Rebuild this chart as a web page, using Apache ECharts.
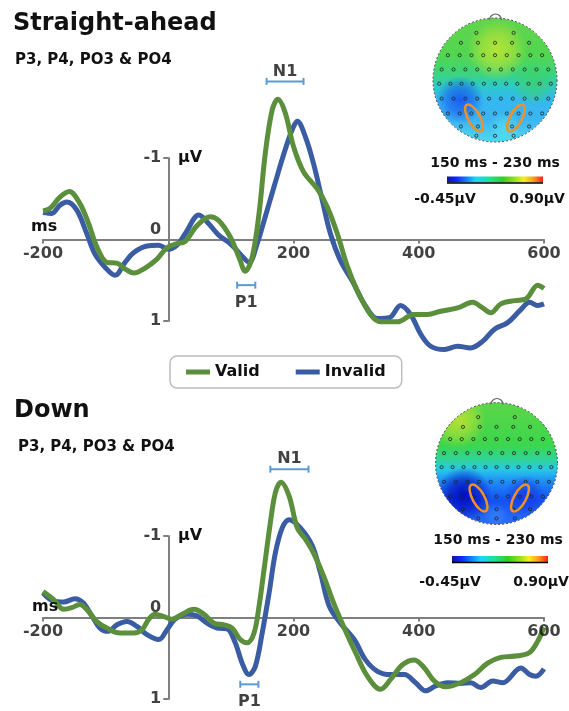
<!DOCTYPE html>
<html>
<head>
<meta charset="utf-8">
<script src="https://cdn.jsdelivr.net/npm/echarts@6/dist/echarts.min.js"></script>
<style>
  html, body { margin: 0; padding: 0; background: #fff; }
  #chart { width: 569px; height: 711px; }
</style>
</head>
<body>
<div id="chart"></div>
<script>
const FONT = 'DejaVu Sans'
const GREEN = '#5b8f3b'
const BLUE = '#3a5ca3'
const WIN = '#5b9bd5'
const AXIS = '#7f7f7f'
const INK = '#111'

// ERP waveforms, [ms, µV] (negative up)
const straightValid = [
  [-200, -0.35], [-189, -0.38], [-173, -0.52], [-158, -0.59], [-141, -0.44], [-127, -0.19],
  [-114, 0.09], [-98, 0.28], [-82, 0.29], [-69, 0.36], [-55, 0.41], [-37, 0.35], [-18, 0.24],
  [-2, 0.1], [14, 0.05], [26, 0.03], [46, -0.17], [67, -0.28], [81, -0.23], [99, -0.03],
  [113, 0.22], [123, 0.39], [134, 0.22], [145, -0.32], [155, -1.06], [166, -1.59], [175, -1.72],
  [187, -1.55], [200, -1.14], [216, -0.83], [238, -0.62], [254, -0.4], [270, -0.07], [286, 0.33],
  [302, 0.63], [323, 0.92], [339, 1.01], [366, 1.01], [392, 0.92], [414, 0.92], [435, 0.88],
  [462, 0.84], [486, 0.77], [502, 0.84], [515, 0.9], [531, 0.79], [553, 0.75], [571, 0.73],
  [590, 0.56], [600, 0.6]
]
const straightInvalid = [
  [-200, -0.33], [-186, -0.32], [-173, -0.42], [-162, -0.46], [-146, -0.36], [-130, -0.07],
  [-117, 0.18], [-101, 0.34], [-85, 0.44], [-69, 0.28], [-55, 0.16], [-34, 0.08], [-15, 0.07],
  [0, 0.12], [14, 0.07], [27, -0.07], [49, -0.3], [65, -0.19], [81, -0.05], [99, 0.05],
  [115, 0.18], [129, 0.28], [142, 0.05], [153, -0.23], [169, -0.65], [185, -1.06], [198, -1.35],
  [206, -1.45], [219, -1.26], [232, -0.93], [246, -0.48], [259, -0.07], [275, 0.26], [294, 0.51],
  [313, 0.79], [334, 0.97], [353, 0.96], [371, 0.81], [387, 0.92], [403, 1.16], [419, 1.31],
  [441, 1.35], [462, 1.31], [483, 1.33], [502, 1.25], [521, 1.1], [542, 1.02], [563, 0.86],
  [577, 0.77], [590, 0.81], [600, 0.79]
]
const downValid = [
  [-200, -0.32], [-183, -0.22], [-167, -0.1], [-154, -0.12], [-141, -0.16], [-128, -0.08],
  [-114, 0.05], [-98, 0.13], [-77, 0.19], [-55, 0.19], [-42, 0.15], [-31, 0.02], [-21, -0.04],
  [-7, -0.01], [6, 0.02], [22, -0.04], [41, -0.1], [57, -0.04], [73, 0.07], [89, 0.09],
  [102, 0.13], [115, 0.27], [126, 0.31], [137, 0.19], [145, -0.14], [153, -0.59], [163, -1.16],
  [171, -1.53], [180, -1.66], [193, -1.49], [206, -1.1], [219, -0.96], [232, -0.79], [248, -0.51],
  [264, -0.18], [280, 0.11], [299, 0.43], [318, 0.72], [339, 0.88], [355, 0.76], [374, 0.58],
  [393, 0.52], [409, 0.62], [425, 0.78], [443, 0.85], [467, 0.8], [489, 0.7], [510, 0.56],
  [531, 0.49], [558, 0.47], [577, 0.43], [590, 0.29], [600, 0.12]
]
const downInvalid = [
  [-200, -0.3], [-183, -0.2], [-167, -0.19], [-149, -0.23], [-136, -0.18], [-122, -0.02],
  [-109, 0.13], [-96, 0.17], [-82, 0.09], [-66, 0.05], [-50, 0.11], [-34, 0.21], [-15, 0.27],
  [-2, 0.15], [11, 0.02], [30, -0.04], [46, -0.02], [62, 0.07], [78, 0.13], [94, 0.14],
  [107, 0.31], [118, 0.56], [129, 0.7], [139, 0.6], [150, 0.19], [161, -0.3], [171, -0.79],
  [182, -1.1], [193, -1.2], [211, -1.1], [230, -0.88], [243, -0.55], [257, -0.14], [275, 0.07],
  [297, 0.27], [315, 0.52], [334, 0.66], [355, 0.7], [377, 0.7], [395, 0.8], [411, 0.9],
  [427, 0.84], [446, 0.8], [467, 0.81], [483, 0.8], [499, 0.86], [518, 0.78], [534, 0.8],
  [563, 0.62], [577, 0.7], [587, 0.72], [600, 0.63]
]

// component windows: [start ms, end ms, level µV]
const straightN1 = [157, 216, -1.94]
const straightP1 = [110, 139, 0.56]
const downN1 = [163, 224, -1.82]
const downP1 = [115, 144, 0.82]

const xTicks = [-200, 200, 400, 600]
const yTicks = [-1, 0, 1]

const titles = ['Straight-ahead', 'Down']
const channels = 'P3, P4, PO3 & PO4'
const topoWindow = '150 ms - 230 ms'
const scaleLabels = ['-0.45µV', '0.90µV']

const panels = [
  { top: 158, valid: straightValid, invalid: straightInvalid, n1: straightN1, p1: straightP1 },
  { top: 536, valid: downValid, invalid: downInvalid, n1: downN1, p1: downP1 }
]

const labelFont = { fontFamily: FONT, fontWeight: 'bold', fontSize: 16, color: INK }

function xAxis(g) {
  return {
    type: 'value', gridIndex: g, min: -200, max: 600, interval: 200,
    axisLine: { onZero: true, lineStyle: { color: AXIS, width: 2 } },
    axisTick: { length: 4, lineStyle: { color: AXIS, width: 2 } },
    axisLabel: { show: false },
    splitLine: { show: false }
  }
}

function yAxis(g) {
  return {
    type: 'value', gridIndex: g, min: -1, max: 1, interval: 1, inverse: true,
    axisLine: { show: true, onZero: true, lineStyle: { color: AXIS, width: 2 } },
    axisTick: { show: true, length: 5, lineStyle: { color: AXIS, width: 2 } },
    axisLabel: { show: false },
    splitLine: { show: false }
  }
}

function curve(name, data, color, g) {
  return {
    type: 'line', name, data, xAxisIndex: g, yAxisIndex: g,
    smooth: 0.35, symbol: 'none', clip: false, z: 3,
    lineStyle: { color, width: 5 }, itemStyle: { color }
  }
}

function bracket(win, g) {
  return {
    type: 'line', xAxisIndex: g, yAxisIndex: g, silent: true, clip: false, z: 4,
    data: [[win[0], win[2]], [win[1], win[2]]],
    symbol: 'rect', symbolSize: [2, 7], showSymbol: true,
    lineStyle: { color: WIN, width: 2 }, itemStyle: { color: WIN }
  }
}

function textPoints(items, g, position, distance) {
  return {
    type: 'scatter', xAxisIndex: g, yAxisIndex: g, silent: true, clip: false,
    symbolSize: 0, z: 5, data: items,
    label: { show: true, position, distance, formatter: '{b}', ...labelFont }
  }
}

function windowLabel(text, win, g, position, distance) {
  return textPoints([{ name: text, value: [(win[0] + win[1]) / 2, win[2]] }], g, position, distance)
}

// tick labels sit on the crossing axes, so they are placed in data space
function tickLabels(g) {
  const xs = xTicks.map((v) => ({ name: String(v), value: [v, 0] }))
  const ys = yTicks.map((v) => ({
    name: String(v), value: [0, v],
    label: v === 0 ? { offset: [0, -10] } : {}
  }))
  return [textPoints(xs, g, 'bottom', 6), textPoints(ys, g, 'left', 7)]
}

// topographic map drawn with shapes
const electrodeRows = [
  [-0.76, 2, 0.3], [-0.6, 5, 0.55], [-0.4, 9, 0.76], [-0.17, 10, 0.86], [0.06, 11, 0.9],
  [0.3, 10, 0.86], [0.54, 9, 0.76], [0.75, 5, 0.55], [0.9, 3, 0.3]
]

function blob(x, y, r, rgb, a) {
  return {
    type: 'circle', shape: { cx: x, cy: y, r },
    style: {
      fill: {
        type: 'radial', x: 0.5, y: 0.5, r: 0.5,
        colorStops: [
          { offset: 0, color: `rgba(${rgb},${a})` },
          { offset: 0.55, color: `rgba(${rgb},${a * 0.6})` },
          { offset: 1, color: `rgba(${rgb},0)` }
        ]
      }
    }
  }
}

function topo(t) {
  const els = []
  const { cx, cy, r } = t
  els.push({
    type: 'circle', shape: { cx, cy, r },
    style: { fill: { type: 'linear', x: 0, y: 0, x2: 0, y2: 1, colorStops: t.stops } }
  })
  t.blobs.forEach((b) => els.push(blob(...b)))
  els.push({ type: 'ring', shape: { cx, cy, r: r + 30, r0: r }, style: { fill: '#fff' } })
  electrodeRows.forEach(([yr, n, spread]) => {
    for (let k = 0; k < n; k++) {
      const xr = n === 1 ? 0 : -spread + (2 * spread * k) / (n - 1)
      els.push({
        type: 'circle', shape: { cx: cx + xr * r, cy: cy + yr * r, r: 1.6 },
        style: { fill: 'none', stroke: '#222', lineWidth: 0.8 }
      })
    }
  })
  t.rings.forEach(([x, y, rot]) => {
    els.push({
      type: 'ellipse', x, y, rotation: rot, shape: { cx: 0, cy: 0, rx: 6, ry: 15 },
      style: { fill: 'none', stroke: '#f0902a', lineWidth: 2.5 }
    })
  })
  els.push({
    type: 'circle', shape: { cx, cy, r },
    style: { fill: 'none', stroke: '#444', lineWidth: 1, lineDash: [2, 2] }
  })
  els.push({
    type: 'arc', shape: { cx: cx + 0.5, cy: cy - r + 2, r: 6, startAngle: Math.PI, endAngle: Math.PI * 2 },
    style: { fill: 'none', stroke: '#666', lineWidth: 1.2 }
  })
  els.push({
    type: 'text',
    style: { text: topoWindow, x: t.titleX, y: t.titleY, align: 'center', verticalAlign: 'middle',
      font: `bold 14px "${FONT}"`, fill: INK }
  })
  els.push({
    type: 'rect', shape: { x: t.barX, y: t.barY, width: 96, height: 6 },
    style: {
      fill: {
        type: 'linear', x: 0, y: 0, x2: 1, y2: 0,
        colorStops: [
          { offset: 0, color: '#12129a' }, { offset: 0.1, color: '#0a2aff' },
          { offset: 0.3, color: '#18d4ff' }, { offset: 0.45, color: '#20e090' },
          { offset: 0.58, color: '#30d020' }, { offset: 0.7, color: '#90e020' },
          { offset: 0.8, color: '#f4f020' }, { offset: 0.9, color: '#ff9a20' },
          { offset: 1, color: '#ff2010' }
        ]
      }
    }
  })
  els.push({
    type: 'line', shape: { x1: t.barX, y1: t.barY + 6.5, x2: t.barX + 96, y2: t.barY + 6.5 },
    style: { stroke: '#000', lineWidth: 1.5 }
  })
  els.push({
    type: 'text',
    style: { text: scaleLabels[0], x: t.minX, y: t.scaleY, align: 'center', verticalAlign: 'middle',
      font: `bold 14px "${FONT}"`, fill: INK }
  })
  els.push({
    type: 'text',
    style: { text: scaleLabels[1], x: t.maxX, y: t.scaleY, align: 'center', verticalAlign: 'middle',
      font: `bold 14px "${FONT}"`, fill: INK }
  })
  return els
}

const topoMaps = [
  {
    cx: 495, cy: 80, r: 62,
    stops: [
      { offset: 0, color: '#62d44c' }, { offset: 0.3, color: '#52d650' },
      { offset: 0.45, color: '#3cd47e' }, { offset: 0.55, color: '#2ccac6' },
      { offset: 0.66, color: '#34b8f0' }, { offset: 0.82, color: '#3cb4f2' },
      { offset: 1, color: '#50d8f0' }
    ],
    blobs: [
      [497, 50, 30, '196,230,50', 0.85],
      [460, 100, 24, '20,80,240', 0.85],
      [534, 84, 22, '60,210,100', 0.7],
      [505, 128, 16, '80,225,240', 0.7]
    ],
    rings: [[474, 118, 0.5], [516, 118, -0.5]],
    titleX: 495, titleY: 163, barX: 447, barY: 176.5, minX: 445, maxX: 537, scaleY: 199
  },
  {
    cx: 496.5, cy: 463.5, r: 61,
    stops: [
      { offset: 0, color: '#5cd648' }, { offset: 0.35, color: '#3cd64c' },
      { offset: 0.47, color: '#30d49a' }, { offset: 0.55, color: '#28c8e6' },
      { offset: 0.65, color: '#1f8cf8' }, { offset: 0.8, color: '#1450f0' },
      { offset: 1, color: '#2a70f8' }
    ],
    blobs: [
      [458, 420, 28, '190,225,50', 0.9],
      [464, 495, 28, '0,10,190', 0.95],
      [525, 495, 20, '20,50,230', 0.7],
      [496, 515, 12, '60,140,250', 0.6]
    ],
    rings: [[478.5, 498, 0.5], [520, 498, -0.5]],
    titleX: 498, titleY: 540, barX: 452, barY: 556, minX: 450, maxX: 541, scaleY: 582
  }
]

const textEls = [
  { text: titles[0], x: 13, y: 24, font: `bold 24px "${FONT}"` },
  { text: channels, x: 15, y: 60, font: `bold 15px "${FONT}"` },
  { text: titles[1], x: 14, y: 411, font: `bold 24px "${FONT}"` },
  { text: channels, x: 18, y: 447, font: `bold 15px "${FONT}"` },
  { text: 'ms', x: 31, y: 227, font: `bold 16px "${FONT}"` },
  { text: 'µV', x: 178, y: 158, font: `bold 16px "${FONT}"` },
  { text: 'ms', x: 32, y: 607, font: `bold 16px "${FONT}"` },
  { text: 'µV', x: 178, y: 536, font: `bold 16px "${FONT}"` }
].map((t) => ({
  type: 'text', z: 10,
  style: { text: t.text, x: t.x, y: t.y, font: t.font, fill: INK, align: 'left', verticalAlign: 'middle' }
}))

const series = []
panels.forEach((p, g) => {
  series.push(curve('Invalid', p.invalid, BLUE, g))
  series.push(curve('Valid', p.valid, GREEN, g))
  series.push(bracket(p.n1, g))
  series.push(bracket(p.p1, g))
  series.push(windowLabel('N1', p.n1, g, 'top', 2))
  series.push(windowLabel('P1', p.p1, g, 'bottom', 10))
  series.push(...tickLabels(g))
})

const chart = echarts.init(document.getElementById('chart'))
chart.setOption({
  animation: false,
  backgroundColor: '#fff',
  grid: panels.map((p) => ({ left: 43, right: 25, top: p.top, height: 163 })),
  xAxis: panels.map((p, g) => xAxis(g)),
  yAxis: panels.map((p, g) => yAxis(g)),
  legend: {
    data: ['Valid', 'Invalid'],
    left: 170, top: 356,
    padding: [8, 16], itemGap: 36, itemWidth: 24, itemHeight: 5,
    icon: 'rect',
    borderColor: '#bdbdbd', borderWidth: 1.5, borderRadius: 7,
    textStyle: { ...labelFont }
  },
  graphic: [...topo(topoMaps[0]), ...topo(topoMaps[1]), ...textEls],
  series
})
</script>
</body>
</html>
